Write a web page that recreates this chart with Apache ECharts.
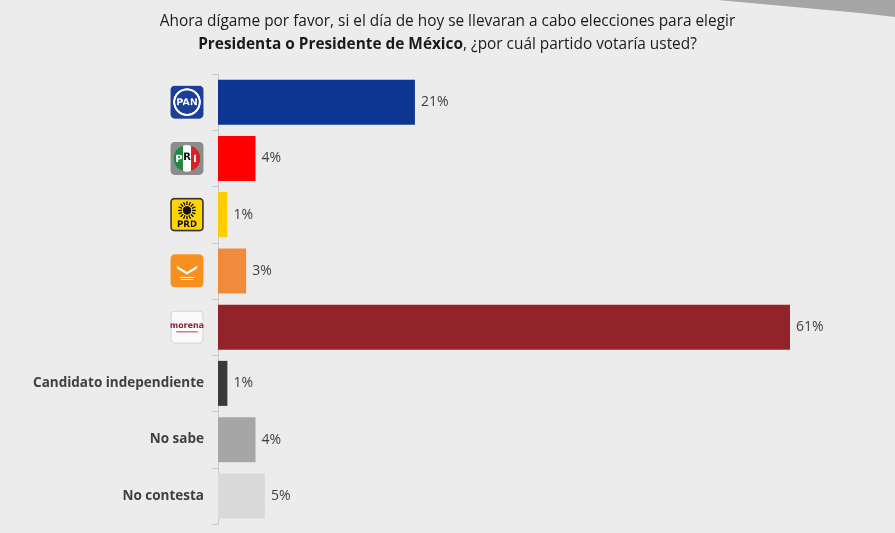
<!DOCTYPE html>
<html><head><meta charset="utf-8">
<script src="https://cdn.jsdelivr.net/npm/echarts@6/dist/echarts.min.js"></script>
<style>html,body{margin:0;padding:0;background:#ececec}#c{width:895px;height:533px}</style>
</head><body><div id="c"></div>
<script>
var categories = ['PAN','PRI','PRD','MC','MORENA','Candidato independiente','No sabe','No contesta'];
var values = [21,4,1,3,61,1,4,5];
var barColors = ['#0d3592','#ff0000','#ffcc00','#f08a3c','#93232b','#3a3a3a','#a6a6a6','#d9d9d9'];
var titleLine1 = 'Ahora dígame por favor, si el día de hoy se llevaran a cabo elecciones para elegir';
var titleBold = 'Presidenta o Presidente de México';
var titleRest = ', ¿por cuál partido votaría usted?';

function rr(ctx,x,y,w,h,r){ctx.beginPath();ctx.moveTo(x+r,y);ctx.arcTo(x+w,y,x+w,y+h,r);ctx.arcTo(x+w,y+h,x,y+h,r);ctx.arcTo(x,y+h,x,y,r);ctx.arcTo(x,y,x+w,y,r);ctx.closePath();}
function mk(draw){var c=document.createElement('canvas');c.width=64;c.height=64;var ctx=c.getContext('2d');draw(ctx);return c.toDataURL();}
var logos = {
 PAN: mk(function(ctx){rr(ctx,1,1,62,62,8);ctx.fillStyle='#1b3f98';ctx.fill();ctx.beginPath();ctx.arc(32,32,24,0,Math.PI*2);ctx.strokeStyle='#fff';ctx.lineWidth=4;ctx.stroke();ctx.fillStyle='#fff';ctx.font='bold 18px "DejaVu Sans"';ctx.textAlign='center';ctx.textBaseline='middle';ctx.fillText('PAN',32,33);}),
 PRI: mk(function(ctx){rr(ctx,1,1,62,62,8);ctx.fillStyle='#8c8c8c';ctx.fill();ctx.save();ctx.beginPath();ctx.arc(32,32,25,0,Math.PI*2);ctx.clip();ctx.fillStyle='#1f8a3c';ctx.fillRect(7,7,17,50);ctx.fillStyle='#fff';ctx.fillRect(24,7,16,50);ctx.fillStyle='#d5232a';ctx.fillRect(40,7,17,50);ctx.restore();ctx.font='bold 19px "DejaVu Sans"';ctx.textAlign='center';ctx.textBaseline='middle';ctx.fillStyle='#fff';ctx.fillText('P',17,34);ctx.fillStyle='#111';ctx.fillText('R',32,30);ctx.fillStyle='#fff';ctx.fillText('I',47,34);}),
 PRD: mk(function(ctx){rr(ctx,2,2,60,60,6);ctx.fillStyle='#ffd400';ctx.fill();ctx.lineWidth=3;ctx.strokeStyle='#333';ctx.stroke();ctx.fillStyle='#111';ctx.beginPath();ctx.arc(32,24,8,0,Math.PI*2);ctx.fill();ctx.strokeStyle='#111';ctx.lineWidth=2.5;for(var i=0;i<16;i++){var a=i*Math.PI/8;ctx.beginPath();ctx.moveTo(32+Math.cos(a)*10,24+Math.sin(a)*10);ctx.lineTo(32+Math.cos(a)*17,24+Math.sin(a)*17);ctx.stroke();}ctx.font='bold 16px "DejaVu Sans"';ctx.textAlign='center';ctx.textBaseline='middle';ctx.fillStyle='#111';ctx.fillText('PRD',32,51);}),
 MC: mk(function(ctx){rr(ctx,1,1,62,62,8);ctx.fillStyle='#f7901e';ctx.fill();ctx.fillStyle='#fff';ctx.beginPath();ctx.moveTo(12,22);ctx.lineTo(32,34);ctx.lineTo(52,22);ctx.lineTo(50,28);ctx.lineTo(32,39);ctx.lineTo(14,28);ctx.closePath();ctx.fill();ctx.fillRect(18,43,28,2);ctx.fillRect(20,47,24,2);}),
 MORENA: mk(function(ctx){rr(ctx,2,2,60,60,7);ctx.fillStyle='#fafafa';ctx.fill();ctx.strokeStyle='#d0d0d0';ctx.lineWidth=1.5;ctx.stroke();ctx.fillStyle='#9a2430';ctx.font='bold 15px "DejaVu Sans"';ctx.textAlign='center';ctx.textBaseline='middle';ctx.fillText('morena',32,30);ctx.fillStyle='#b85560';ctx.fillRect(12,40,40,2);})
};
var rich = {
 t:{fontFamily:'"Open Sans"',fontWeight:'bold',fontSize:13.5,color:'#404040'}
};
Object.keys(logos).forEach(function(k){rich[k]={width:34,height:34,backgroundColor:{image:logos[k]}};});

var chart = echarts.init(document.getElementById('c'),null,{renderer:'canvas'});
chart.setOption({
 backgroundColor:'#ececec',
 animation:false,
 title:{left:'center',top:5,text:'{n|'+titleLine1+'}\n{b|'+titleBold+'}{n|'+titleRest+'}',
  textStyle:{fontWeight:'normal',rich:{n:{fontFamily:'"Open Sans"',fontSize:15.4,fontWeight:'normal',color:'#1a1a1a',lineHeight:23},b:{fontFamily:'"Open Sans"',fontSize:15.4,fontWeight:'bold',color:'#1a1a1a',lineHeight:23}}}},
 graphic:[{type:'polygon',silent:true,shape:{points:[[718,0],[895,0],[895,17],[860,13]]},style:{fill:'#a6a6a6'}}],
 grid:{left:218,right:105,top:74,bottom:9,containLabel:false},
 xAxis:{type:'value',min:0,max:61,show:false},
 yAxis:{type:'category',inverse:true,data:categories,
  axisLine:{show:true,lineStyle:{color:'#c8c8c8'}},
  axisTick:{show:true,length:6,lineStyle:{color:'#c8c8c8'}},
  axisLabel:{margin:14,rich:rich,formatter:function(v){return logos[v]?'{'+v+'|}':'{t|'+v+'}';}}},
 series:[{type:'bar',data:values.map(function(v,i){return {value:v,itemStyle:{color:barColors[i]}};}),
  barCategoryGap:'20%',
  label:{show:true,position:'right',distance:6,formatter:'{c}%',fontFamily:'"Open Sans"',fontSize:14,color:'#404040'}}]
});
</script></body></html>
